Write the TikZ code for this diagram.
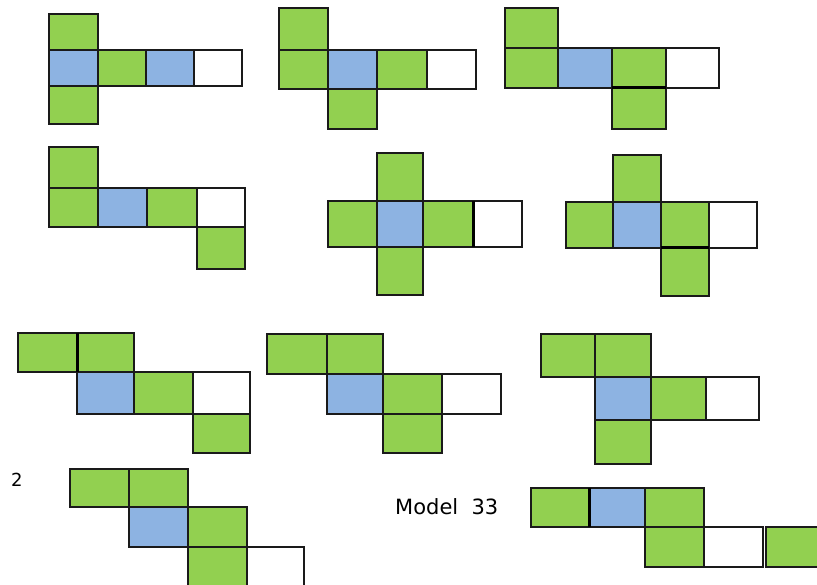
\documentclass[tikz,border=0pt]{standalone}
\usepackage{fontspec}
\setmainfont{DejaVu Sans}
\definecolor{cgreen}{HTML}{92D050}
\definecolor{cblue}{HTML}{8DB3E2}
\definecolor{cline}{HTML}{1A1A1A}
\tikzset{
  gcell/.style={fill=cgreen,draw=cline,line width=1.6pt},
  bcell/.style={fill=cblue,draw=cline,line width=1.6pt},
  wcell/.style={fill=white,draw=cline,line width=1.6pt},
  thick edge/.style={draw=black,line width=3pt},
  lbl/.style={inner sep=0pt,font=\fontsize{21}{25}\selectfont},
  numlbl/.style={inner sep=0pt,font=\fontsize{18}{22}\selectfont}
}
\begin{document}
\begin{tikzpicture}[x=1pt,y=-1pt]
\useasboundingbox (0,0) rectangle (817,585);
\clip (0,0) rectangle (817,585);
% Figure 1
\draw[gcell] (49,14) rectangle (98,50);
\draw[bcell] (49,50) rectangle (98,86);
\draw[gcell] (98,50) rectangle (146,86);
\draw[bcell] (146,50) rectangle (194,86);
\draw[wcell] (194,50) rectangle (242,86);
\draw[gcell] (49,86) rectangle (98,124);
% Figure 2
\draw[gcell] (279,8) rectangle (328,50);
\draw[gcell] (279,50) rectangle (328,89);
\draw[bcell] (328,50) rectangle (377,89);
\draw[gcell] (377,50) rectangle (427,89);
\draw[wcell] (427,50) rectangle (476,89);
\draw[gcell] (328,89) rectangle (377,129);
% Figure 3
\draw[gcell] (505,8) rectangle (558,48);
\draw[gcell] (505,48) rectangle (558,88);
\draw[bcell] (558,48) rectangle (612,88);
\draw[gcell] (612,48) rectangle (666,88);
\draw[wcell] (666,48) rectangle (719,88);
\draw[gcell] (612,88) rectangle (666,129);
\draw[thick edge] (612,88) -- (666,88);
% Figure 4
\draw[gcell] (49,147) rectangle (98,188);
\draw[gcell] (49,188) rectangle (98,227);
\draw[bcell] (98,188) rectangle (147,227);
\draw[gcell] (147,188) rectangle (197,227);
\draw[wcell] (197,188) rectangle (245,227);
\draw[gcell] (197,227) rectangle (245,269);
% Figure 5
\draw[gcell] (377,153) rectangle (423,201);
\draw[gcell] (328,201) rectangle (377,247);
\draw[bcell] (377,201) rectangle (423,247);
\draw[gcell] (423,201) rectangle (473,247);
\draw[wcell] (473,201) rectangle (522,247);
\draw[gcell] (377,247) rectangle (423,295);
\draw[thick edge] (473,201) -- (473,247);
% Figure 6
\draw[gcell] (613,155) rectangle (661,202);
\draw[gcell] (566,202) rectangle (613,248);
\draw[bcell] (613,202) rectangle (661,248);
\draw[gcell] (661,202) rectangle (709,248);
\draw[wcell] (709,202) rectangle (757,248);
\draw[gcell] (661,248) rectangle (709,296);
\draw[thick edge] (661,248) -- (709,248);
% Figure 7
\draw[gcell] (18,333) rectangle (77,372);
\draw[gcell] (77,333) rectangle (134,372);
\draw[bcell] (77,372) rectangle (134,414);
\draw[gcell] (134,372) rectangle (193,414);
\draw[wcell] (193,372) rectangle (250,414);
\draw[gcell] (193,414) rectangle (250,453);
\draw[thick edge] (77,333) -- (77,372);
% Figure 8
\draw[gcell] (267,334) rectangle (327,374);
\draw[gcell] (327,334) rectangle (383,374);
\draw[bcell] (327,374) rectangle (383,414);
\draw[gcell] (383,374) rectangle (442,414);
\draw[wcell] (442,374) rectangle (501,414);
\draw[gcell] (383,414) rectangle (442,453);
% Figure 9
\draw[gcell] (541,334) rectangle (595,377);
\draw[gcell] (595,334) rectangle (651,377);
\draw[bcell] (595,377) rectangle (651,420);
\draw[gcell] (651,377) rectangle (706,420);
\draw[wcell] (706,377) rectangle (759,420);
\draw[gcell] (595,420) rectangle (651,464);
% Figure 10
\draw[gcell] (70,469) rectangle (129,507);
\draw[gcell] (129,469) rectangle (188,507);
\draw[bcell] (129,507) rectangle (188,547);
\draw[gcell] (188,507) rectangle (247,547);
\draw[gcell] (188,547) rectangle (247,588);
\draw[wcell] (247,547) rectangle (304,588);
\node[numlbl,anchor=base west] (two) at (11,486) {2};
% Figure 11
\draw[gcell] (531,488) rectangle (589,527);
\draw[bcell] (589,488) rectangle (645,527);
\draw[gcell] (645,488) rectangle (704,527);
\draw[gcell] (645,527) rectangle (704,567);
\draw[wcell] (704,527) rectangle (763,567);
\draw[gcell] (766,527) rectangle (825,567);
\draw[thick edge] (589,488) -- (589,527);
\node[lbl,anchor=base west] (model) at (395,514) {Model\ \ 33};
\end{tikzpicture}
\end{document}
